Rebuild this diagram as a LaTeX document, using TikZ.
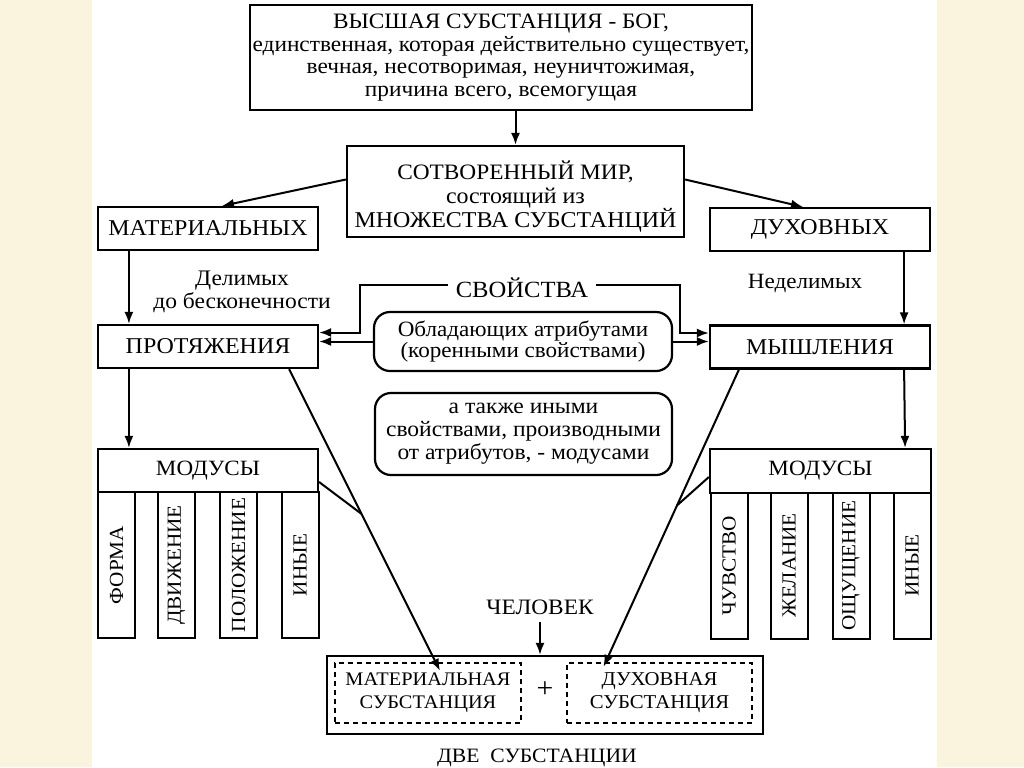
\documentclass[tikz,border=0pt]{standalone}
\usepackage{fontspec}
\setmainfont{Liberation Serif}[FakeStretch=1.06]
\usepackage{tikz}
\usetikzlibrary{arrows.meta}
\definecolor{paper}{RGB}{250,243,222}

\begin{document}
\begin{tikzpicture}[x=0.5pt,y=-0.5pt,line width=1pt,
  box/.style={rectangle,draw=black,line width=1.1pt,inner sep=0pt,align=center},
  rbox/.style={box,rounded corners=8pt},
  dbox/.style={box,line width=1.2pt,dash pattern=on 2.5pt off 2pt},
  col/.style={box,line width=1pt,rotate=90,minimum width=73pt,minimum height=18.5pt,font=\fontsize{10}{10}\selectfont},
  arr/.style={-{Latex[length=6pt,width=4.5pt]},line width=1pt}]
% Background
\useasboundingbox (0,0) rectangle (1024,767);
\fill[paper] (0,0) rectangle (1024,767);
\fill[white] (92,0) rectangle (937,767);
% Boxes
\node at (501,57.5) [box,minimum width=251pt,minimum height=52.5pt,font=\fontsize{11}{11.3}\selectfont] (Bog)
  {{\fontsize{11}{11.3}\selectfont ВЫСШАЯ СУБСТАНЦИЯ - БОГ,}\\ единственная, которая действительно существует,\\ вечная, несотворимая, неуничтожимая,\\ причина всего, всемогущая};
\node at (515.5,191.5) [box,minimum width=168.5pt,minimum height=45.5pt] (Mir) {};
\node at (515.5,197) [align=center,inner sep=0pt,font=\fontsize{11.3}{12}\selectfont] (MirText)
  {{\fontsize{11}{12}\selectfont СОТВОРЕННЫЙ МИР,}\\ состоящий из\\ МНОЖЕСТВА СУБСТАНЦИЙ};
\node at (208,228.5) [box,minimum width=110pt,minimum height=21.5pt,font=\fontsize{11.3}{12}\selectfont] (Mater) {МАТЕРИАЛЬНЫХ};
\node at (820,229.5) [box,minimum width=110pt,minimum height=21.5pt,font=\fontsize{11.3}{12}\selectfont] (Duh) {ДУХОВНЫХ};
\node at (208,346.5) [box,minimum width=110pt,minimum height=21.5pt,font=\fontsize{11.3}{12}\selectfont] (Protyazh) {ПРОТЯЖЕНИЯ};
\node at (820,347) [box,minimum width=110pt,minimum height=21.5pt,font=\fontsize{11.3}{12}\selectfont] (Mysh) {МЫШЛЕНИЯ};
\node at (523,341.5) [rbox,minimum width=149pt,minimum height=29.5pt,font=\fontsize{10.9}{10.5}\selectfont] (Attr)
  {Обладающих атрибутами\\ (коренными свойствами)};
\node at (523.5,434) [rbox,minimum width=148.5pt,minimum height=41pt,font=\fontsize{11.1}{11.5}\selectfont] (Modusy)
  {а также иными\\ свойствами, производными\\ от атрибутов, - модусами};
% Modus headers and columns
\node at (208,470.5) [box,minimum width=110pt,minimum height=21.5pt,font=\fontsize{10.9}{12}\selectfont] (ModL) {МОДУСЫ};
\node at (820.5,471) [box,minimum width=110.5pt,minimum height=22pt,font=\fontsize{10.9}{12}\selectfont] (ModR) {МОДУСЫ};
\node at (116.5,565) [col] (ColL1) {ФОРМА};
\node at (176.5,565) [col] (ColL2) {ДВИЖЕНИЕ};
\node at (238.5,565) [col] (ColL3) {ПОЛОЖЕНИЕ};
\node at (300,565) [col] (ColL4) {ИНЫЕ};
\node at (729,565.5) [col] (ColR1) {ЧУВСТВО};
\node at (789,565.5) [col] (ColR2) {ЖЕЛАНИЕ};
\node at (851,565.5) [col] (ColR3) {ОЩУЩЕНИЕ};
\node at (912,565.5) [col] (ColR4) {ИНЫЕ};
% Two substances
\node at (545,695) [box,minimum width=218pt,minimum height=39pt] (Subst) {};
\node at (428,693) [dbox,minimum width=93pt,minimum height=30pt,font=\fontsize{9.6}{11.5}\selectfont] (MatSub) {МАТЕРИАЛЬНАЯ\\ СУБСТАНЦИЯ};
\node at (659.5,693) [dbox,minimum width=92.5pt,minimum height=30pt,font=\fontsize{9.8}{11.5}\selectfont] (DuhSub) {ДУХОВНАЯ\\ СУБСТАНЦИЯ};
\node at (545,690) [font=\fontsize{14}{14}\selectfont] (Plus) {+};
% Labels
\node at (242,292) [align=center,font=\fontsize{11.1}{10}\selectfont] (Delim) {Делимых\\ до бесконечности};
\node at (805,283) [font=\fontsize{10.9}{12}\selectfont] (Nedelim) {Неделимых};
\node at (522,288) [font=\fontsize{11.6}{12}\selectfont] (Svoistva) {СВОЙСТВА};
\node at (540,607) [font=\fontsize{11}{12}\selectfont] (Chelovek) {ЧЕЛОВЕК};
\node at (537,758) [font=\fontsize{10.2}{12}\selectfont] (Dve) {ДВЕ\ \ СУБСТАНЦИИ};
% Node Connections
\draw[arr] (Bog.south -| Mir.north) -- (Mir.north);
\draw[arr] ([yshift=6pt]Mir.west) -- ([xshift=7pt]Mater.north);
\draw[arr] ([yshift=6pt]Mir.east) -- ([xshift=-8.5pt]Duh.north);
\draw[arr] ([xshift=16pt]Mater.south west) -- ([xshift=16pt]Protyazh.north west);
\draw[arr] ([xshift=-13.5pt]Duh.south east) -- ([xshift=-13.5pt]Mysh.north east);
\draw[arr] ([xshift=16pt]Protyazh.south west) -- ([xshift=16pt]ModL.north west);
\draw[arr] ([xshift=-13.5pt]Mysh.south east) -- ([xshift=-13.5pt]ModR.north east);
% Properties
\coordinate (SvL) at (360,285);
\coordinate (SvR) at (680,285);
\draw[arr] (Svoistva.west |- SvL) -- (SvL) |- ([yshift=7pt]Protyazh.east);
\draw[arr] (Svoistva.east |- SvR) -- (SvR) |- ([yshift=7pt]Mysh.west);
\draw[arr] (Attr.west) -- (Attr.west -| Protyazh.east);
\draw[arr] (Attr.east) -- (Attr.east -| Mysh.west);
% Lines to the two substances
\draw[arr] ([xshift=-15pt]Protyazh.south east) -- coordinate[pos=0.48] (JoinL) ([xshift=6pt,yshift=-4.5pt]MatSub.north);
\draw ([yshift=-5.75pt]ModL.east) -- (JoinL);
\draw[arr] ([xshift=15pt]Mysh.south west) -- coordinate[pos=0.457] (JoinR) ([xshift=-28pt,yshift=-2.5pt]DuhSub.north);
\draw ([yshift=-3pt]ModR.west) -- (JoinR);
\draw[arr] (Chelovek.south) -- (Chelovek.south |- Subst.north);
\end{tikzpicture}
\end{document}
